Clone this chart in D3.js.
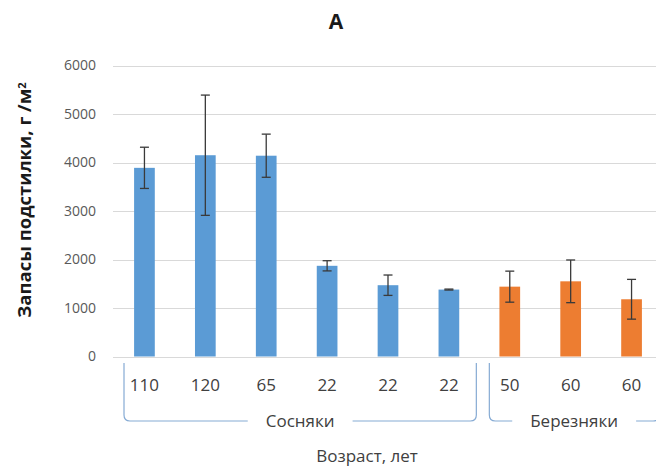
<!DOCTYPE html>
<html>
    <head>
        <meta charset="utf-8">
        <script type="text/javascript" src="https://d3js.org/d3.v7.min.js"></script>
        <style>
            html, body {
                margin: 0;
                padding: 0;
                background: #fff;
                font-family: "Open Sans", "DejaVu Sans", sans-serif;
            }
            svg .tick-label {
                font-size: 14px;
                fill: #595959;
            }
            svg .cat-label, svg .group-label, svg .x.title {
                font-size: 17px;
                fill: #404040;
            }
            svg .y.title {
                font-size: 18.5px;
                font-weight: bold;
                fill: #1a1a1a;
            }
            svg .chart-title {
                font-size: 21px;
                font-weight: bold;
                fill: #1a1a1a;
            }
        </style>
    </head>
    <body>
        <div id="chart"></div>
        <script>
            // ages (category labels), left to right
            var categories = ["110", "120", "65", "22", "22", "22", "50", "60", "60"];
            // forest type of each bar
            var groupOf = ["Сосняки", "Сосняки", "Сосняки", "Сосняки", "Сосняки", "Сосняки",
                           "Березняки", "Березняки", "Березняки"];
            var groupNames = ["Сосняки", "Березняки"];
            // litter stock, g/m2
            var values = [3890, 4150, 4140, 1870, 1470, 1380, 1440, 1550, 1180];
            var errors = [425, 1240, 445, 105, 210, 10, 320, 440, 410];
            var yTicks = [0, 1000, 2000, 3000, 4000, 5000, 6000];

            var width = 656, height = 469;
            var plotLeft = 113, plotRight = 656;
            var colors = {"Сосняки": "#5b9bd5", "Березняки": "#ed7d31"};

            var svg = d3.select("#chart")
                .append("svg")
                    .attr("width", width)
                    .attr("height", height);

            var xScale = d3.scaleBand()
                .domain(d3.range(categories.length))
                .range([114, 662])
                .paddingInner(0.66)
                .paddingOuter(0.33);

            var yScale = d3.scaleLinear()
                .domain([0, 6000])
                .range([356.5, 65.5]);

            // gridlines
            svg.append("g")
                .attr("class", "grid")
                .selectAll("line")
                .data(yTicks)
                .enter()
                .append("line")
                .attr("x1", plotLeft)
                .attr("x2", plotRight)
                .attr("y1", function(d) { return Math.round(yScale(d)) + 0.5; })
                .attr("y2", function(d) { return Math.round(yScale(d)) + 0.5; })
                .attr("stroke", "#d9d9d9")
                .attr("stroke-width", 1);

            svg.append("g")
                .selectAll("text")
                .data(yTicks)
                .enter()
                .append("text")
                .attr("class", "tick-label")
                .attr("x", 96)
                .attr("y", function(d) { return yScale(d); })
                .attr("dy", "0.35em")
                .attr("text-anchor", "end")
                .text(function(d) { return d; });

            // bars
            var step = xScale.step();
            svg.append("g")
                .selectAll("rect")
                .data(values)
                .enter()
                .append("rect")
                .attr("x", function(d, i) { return xScale(i); })
                .attr("width", xScale.bandwidth())
                .attr("y", function(d) { return yScale(d); })
                .attr("height", function(d) { return yScale(0) - yScale(d); })
                .attr("fill", function(d, i) { return colors[groupOf[i]]; });

            // error bars
            var eb = svg.append("g")
                .attr("stroke", "#3a3a3a")
                .attr("stroke-width", 1.3);
            values.forEach(function(v, i) {
                var cx = xScale(i) + xScale.bandwidth() / 2;
                var top = yScale(v + errors[i]), bot = yScale(v - errors[i]);
                eb.append("line").attr("x1", cx).attr("x2", cx).attr("y1", top).attr("y2", bot);
                eb.append("line").attr("x1", cx - 4.5).attr("x2", cx + 4.5).attr("y1", top).attr("y2", top);
                eb.append("line").attr("x1", cx - 4.5).attr("x2", cx + 4.5).attr("y1", bot).attr("y2", bot);
            });

            // category labels
            svg.append("g")
                .selectAll("text")
                .data(categories)
                .enter()
                .append("text")
                .attr("class", "cat-label")
                .attr("x", function(d, i) { return xScale(i) + xScale.bandwidth() / 2; })
                .attr("y", 385)
                .attr("dy", "0.35em")
                .attr("text-anchor", "middle")
                .text(function(d) { return d; });

            // group brackets
            var brackets = svg.append("g");
            groupNames.forEach(function(name) {
                var idx = d3.range(categories.length).filter(function(i) { return groupOf[i] === name; });
                var first = idx[0], last = idx[idx.length - 1];
                var x0 = xScale(first) + xScale.bandwidth() / 2 - step / 2 + 10;
                var x1 = xScale(last) + xScale.bandwidth() / 2 + step / 2 - 3;
                var yTop = 363, yLine = 421, r = 6;
                var mid = (x0 + x1) / 2;
                var label = brackets.append("text")
                    .attr("class", "group-label")
                    .attr("x", mid)
                    .attr("y", yLine)
                    .attr("dy", "0.35em")
                    .attr("text-anchor", "middle")
                    .text(name);
                var w = label.node().getComputedTextLength();
                var gap = 18;
                var path = "M" + x0 + "," + yTop + " L" + x0 + "," + (yLine - r) +
                    " Q" + x0 + "," + yLine + " " + (x0 + r) + "," + yLine +
                    " L" + (mid - w / 2 - gap) + "," + yLine +
                    " M" + (mid + w / 2 + gap) + "," + yLine +
                    " L" + (x1 - r) + "," + yLine +
                    " Q" + x1 + "," + yLine + " " + x1 + "," + (yLine - r) +
                    " L" + x1 + "," + yTop;
                brackets.append("path")
                    .attr("d", path)
                    .attr("fill", "none")
                    .attr("stroke", "#86abd4")
                    .attr("stroke-width", 1.2);
            });

            // titles
            svg.append("text")
                .attr("class", "chart-title")
                .attr("x", 336)
                .attr("y", 22)
                .attr("dy", "0.35em")
                .attr("text-anchor", "middle")
                .text("А");

            svg.append("text")
                .attr("class", "x title")
                .attr("x", 367)
                .attr("y", 456)
                .attr("dy", "0.35em")
                .attr("text-anchor", "middle")
                .text("Возраст, лет");

            var yTitle = svg.append("text")
                .attr("class", "y title")
                .attr("transform", "translate(25,200) rotate(-90)")
                .attr("dy", "0.35em")
                .attr("text-anchor", "middle");
            yTitle.append("tspan").text("Запасы подстилки, г /м");
            yTitle.append("tspan").attr("dy", "-0.5em").style("font-size", "11px").text("2");
        </script>
    </body>
</html>
